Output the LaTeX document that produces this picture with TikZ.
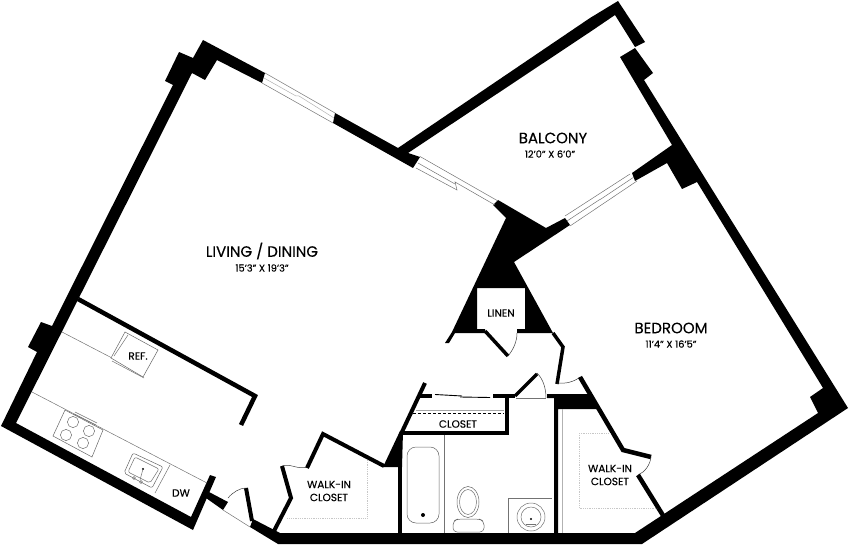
\documentclass[tikz,border=0pt]{standalone}
\usepackage{fontspec}
\setmainfont[FakeBold=0.25]{Poppins}
\tikzset{
  wall/.style={fill=black,draw=none},
  thick wall/.style={draw=black,line width=4.5pt,line join=miter,line cap=butt},
  door/.style={draw=black!75,line width=0.5pt},
  fine/.style={draw=black!55,line width=0.5pt},
  fixture/.style={draw=black!60,line width=0.5pt,fill=white},
  dotline/.style={draw=black!22,line width=0.8pt,densely dotted},
  room/.style={font=\fontsize{15}{15}\selectfont,inner sep=0pt},
  dims/.style={font=\fontsize{9.8}{10}\selectfont,inner sep=0pt},
  small/.style={font=\fontsize{10.5}{13}\selectfont,inner sep=0pt,align=center},
}
\begin{document}
\begin{tikzpicture}[x=1pt,y=-1pt]
\useasboundingbox (0,0) rectangle (850,545);
% outer-left wall with the two bumps and top wall
\fill[wall] (265,73) -- (203,40) -- (193,58) -- (179,52) -- (165,81) -- (173,85) -- (52,326) -- (41,322) -- (28,347) -- (37,352) -- (1,426) -- (193,530) -- (216,477) -- (210,475) -- (191,517) -- (16,423) -- (192,73) -- (205,80) -- (217,60) -- (262,83) -- cycle;
% door stub by DW
\fill[wall] (209,492) -- (228,502) -- (223,510) -- (206,498) -- cycle;
% living wall past first window, junction, balcony wall
\fill[wall] (335,113) -- (398,148) -- (590,18) -- (618,1) -- (645,42) -- (635,47) -- (615,15) -- (590,32) -- (408,153) -- (420,157) -- (413,168) -- (333,123) -- cycle;
% right wall with bumps, corner and lower wall
\fill[wall] (620,57) -- (635,48) -- (653,73) -- (644,80) -- (848,408) -- (642,544) -- (278,544) -- (250,527) -- (253,519) -- (280,533) -- (635,533) -- (818,413) -- (810,397) -- (823,388) -- (697,182) -- (682,189) -- (667,163) -- (635,181) -- (632,173) -- (672,145) -- cycle;
% wedge with linen closet
\fill[wall] (493,205) -- (498,200) -- (546,228) -- (565,218) -- (570,225) -- (514,262) -- (553,333) -- (517,333) -- (517,329) -- (525,329) -- (525,288) -- (477,288) -- (477,329) -- (485,329) -- (485,333) -- (455,333) -- (449,343) -- (445,343) -- (452,332) -- (506,218) -- cycle;
% kitchen partition
\draw[thick wall] (78,299) -- (255,396) -- (241,425);
% kitchen door leaf
\draw[thick wall,line width=4pt] (246,488) -- (252,521);
\draw[door] (228,498) .. controls (233,492) and (240,488) .. (246,488);
\draw[fine] (223,510) -- (250,527);
% first walk-in closet
\draw[thick wall,line width=4pt] (274,531) -- (291,498) -- (282,466);
\draw[door] (282,466) .. controls (290,463) and (298,470) .. (307,467);
\draw[thick wall,line width=4pt] (307,468) -- (323,434) -- (384,466);
\fill[wall] (383,467) -- (400,431) -- (403,431) -- (402,467) -- cycle;
\draw[thick wall,line width=4pt] (425,383) -- (401,434);
% bath wall, closet walls
\fill[wall] (398,465) rectangle (402,533);
\fill[wall] (402,431) rectangle (509,435);
\fill[wall] (505,393.5) rectangle (509,435);
\fill[wall] (420,393.5) rectangle (432,398);
\fill[wall] (493,393.5) rectangle (515,398);
\draw[black,line width=0.9pt] (435,394.5) -- (462,396);
\draw[black,line width=0.9pt] (460,397) -- (490,397.5);
% bath door
\draw[thick wall,line width=3.5pt] (515,396) -- (537,374);
\draw[door] (537,373) .. controls (543,379) and (546,388) .. (546,398);
\draw[fine] (516,398) -- (546,398);
% thick wall at bedroom closet
\fill[wall] (547,394) -- (588,394) -- (598,409) -- (558,409) -- (558,533) -- (554,533) -- (554,398) -- (547,398) -- cycle;
% bedroom door + closet walls
\draw[thick wall,line width=3.5pt] (553,333) -- (563,347) -- (557,384);
\draw[door] (557,383) .. controls (565,384) and (574,382) .. (580,377);
\draw[thick wall,line width=4.5pt] (580,377) -- (623,450) -- (651,457);
\draw[door] (651,457) .. controls (650,465) and (645,472) .. (638,475);
\draw[thick wall,line width=4.5pt] (638,475) -- (664,517);
% linen door
\draw[thick wall,line width=3.5pt] (485,331) -- (508,356);
\draw[door] (508,356) .. controls (513,350) and (517,342) .. (517,333);
% window 1
\draw[fine] (265,73) -- (335,113);
\draw[fine] (262,83) -- (333,123);
\draw[fine,black!30] (264,78) -- (296,96) -- (299,96) -- (334,118);
% window 2
\draw[fine] (420,156.5) -- (498,201);
\draw[fine] (418,163) -- (455,184);
\draw[fine] (416,168) -- (457,190) -- (455,182) -- (495,205);
% window 3
\draw[fine] (565,216) -- (630,174);
\draw[fine] (567,221) -- (599,200) -- (601,199) -- (634,177);
\draw[fine] (570,226) -- (637,181);
% kitchen fixtures
\draw[fine] (62,332) -- (112,358);
\draw[fine] (32,392) -- (207,483);
\draw[fine] (170,465) -- (155,493);
\filldraw[fixture] (125,332) -- (158,350) -- (143,377) -- (111,358) -- cycle;
\draw[fine] (128,335) -- (114,356);
\draw[fine] (112,361) -- (144,378);
\filldraw[fixture] (65,410) -- (103,430) -- (92,457) -- (53,436) -- cycle;
\draw[fine] (75,412) -- (97,423);
\draw[fine] (74,414) -- (96,425);
\foreach \px/\py in {73/422, 89/431, 66/435, 83/443}{\draw[fine] (\px,\py) circle (5.6pt);}
\draw[fixture,rounded corners=2pt] (133,453) -- (163,467) -- (152,488) -- (124,473) -- cycle;
\draw[fine,rounded corners=2pt] (135,457) -- (159,469) -- (150,483) -- (128,472) -- cycle;
\fill[black] (143,469) circle (1.2pt);
\draw[fine] (143,469) -- (140,480);
\draw[fine] (134,478) circle (1.6pt);
\draw[fine] (141,482) circle (1.6pt);
% bath fixtures
\draw[fine] (444,435) -- (444,533);
\draw[fixture,rounded corners=9pt] (407,447) rectangle (439,523);
\fill[black] (423,515) circle (2pt);
\draw[fixture] (468,502) ellipse (11pt and 15.5pt);
\draw[fine] (468,502) ellipse (8.5pt and 12.5pt);
\draw[fixture,rounded corners=4pt] (453,532) -- (453,521) -- (458,519) -- (479,519) -- (484,521) -- (484,532) -- cycle;
\draw[fine] (508,533) -- (508,498) -- (552,498);
\draw[fine] (531,517) circle (14pt);
\draw[fine] (531,517) circle (10pt);
\fill[black] (531,519) circle (1.2pt);
\draw[fine] (526,524) -- (536,524);
% closet dashes
\draw[fine,black!35] (416,410.5) -- (504,410.5);
\draw[black,line width=0.5pt,densely dashed] (413,413.5) -- (504,413.5);
% closet shelving
\draw[dotline] (367,460) -- (367,518) -- (287,518);
\draw[dotline] (579,433) -- (579,508) -- (657,508);
\draw[dotline] (579,433) -- (610,433);
\draw[fine,black!30] (562,409) -- (562,533);
% labels
\node[room] (living) at (262,251) {LIVING / DINING};
\node[dims] (livingd) at (262,268) {15'3" X 19'3"};
\node[room] (balcony) at (553,138) {BALCONY};
\node[dims] (balconyd) at (550,154) {12'0" X 6'0"};
\node[room] (bedroom) at (671,328) {BEDROOM};
\node[dims] (bedroomd) at (671,344) {11'4" X 16'5"};
\node[small] (linen) at (501,313) {LINEN};
\node[small] (closet) at (458,424) {CLOSET};
\node[small] (ref) at (138,356) {REF.};
\node[small] (dw) at (181,493) {DW};
\node[small] (wic1) at (329,491) {WALK-IN\\CLOSET};
\node[small] (wic2) at (610,475) {WALK-IN\\CLOSET};
\end{tikzpicture}
\end{document}
